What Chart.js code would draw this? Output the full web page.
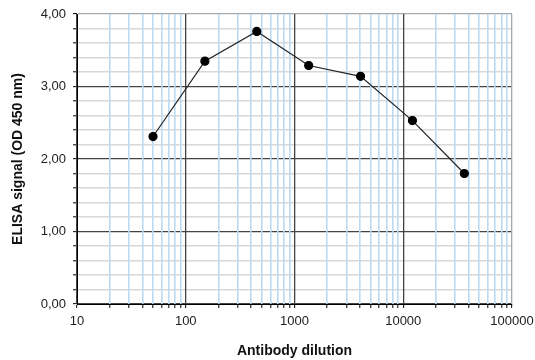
<!DOCTYPE html>
<html>
<head>
<meta charset="utf-8">
<script src="https://cdn.jsdelivr.net/npm/chart.js@4"></script>
<style>
  html, body { margin: 0; padding: 0; background: #fff; }
  #wrap { width: 535px; height: 360px; }
</style>
</head>
<body>
<div id="wrap"><canvas id="elisaChart" width="535" height="360"></canvas></div>
<script>
"use strict";

// antibody dilutions and measured ELISA signal (OD 450 nm)
const dilutions = [50, 150, 450, 1350, 4050, 12150, 36450];
const signals = [2.31, 3.35, 3.76, 3.29, 3.14, 2.53, 1.80];

const xDecades = [10, 100, 1000, 10000, 100000];
const yMin = 0, yMax = 4, yStep = 0.2;

const majorColor = "#444";
const edgeColor = "#a8a8a8";
const blueColor = "#bcdaf2";
const grayColor = "#d8d8d8";

function isDecade(v) {
  return xDecades.includes(Math.round(v));
}

function isWhole(v) {
  return Math.abs(v - Math.round(v)) < 1e-6;
}

function xTickValues() {
  const vals = [];
  for (let i = 0; i < xDecades.length - 1; i++) {
    for (let m = 1; m <= 9; m++) {
      vals.push(xDecades[i] * m);
    }
  }
  vals.push(xDecades[xDecades.length - 1]);
  return vals;
}

const ctx = document.getElementById("elisaChart").getContext("2d");

new Chart(ctx, {
  type: "line",
  data: {
    datasets: [
      {
        data: dilutions.map((d, i) => ({ x: d, y: signals[i] })),
        borderColor: "#222",
        borderWidth: 1.2,
        backgroundColor: "#000",
        pointBackgroundColor: "#000",
        pointBorderColor: "#000",
        pointRadius: 4,
        fill: false,
        tension: 0,
      },
    ],
  },
  options: {
    responsive: false,
    animation: false,
    layout: {
      padding: { left: 0, top: 14, right: 23, bottom: 0 },
    },
    plugins: {
      legend: { display: false },
      tooltip: { enabled: false },
    },
    scales: {
      x: {
        type: "logarithmic",
        min: 10,
        max: 100000,
        afterBuildTicks: (scale) => {
          scale.ticks = xTickValues().map((v) => ({ value: v }));
        },
        afterFit: (scale) => {
          scale.height = 56;
          scale.paddingLeft = 0;
          scale.paddingRight = 0;
        },
        border: { color: "#000", width: 1 },
        grid: {
          z: -1,
          color: (c) => {
            const v = c.tick ? c.tick.value : 0;
            if (v === 100000) return edgeColor;
            return isDecade(v) ? majorColor : blueColor;
          },
          lineWidth: (c) => (c.tick && isDecade(c.tick.value) ? 1.3 : 1.6),
          tickColor: "#000",
          tickWidth: 1,
          tickLength: 4,
        },
        ticks: {
          autoSkip: false,
          maxRotation: 0,
          padding: 6,
          color: "#222",
          font: { family: "Liberation Sans, Arial, sans-serif", size: 13 },
          callback: (v) => (isDecade(v) ? String(Math.round(v)) : ""),
        },
        title: {
          display: true,
          text: "Antibody dilution",
          color: "#111",
          padding: { top: 0, bottom: 0 },
          font: { family: "Liberation Sans, Arial, sans-serif", size: 14, weight: "bold" },
        },
      },
      y: {
        min: yMin,
        max: yMax,
        afterFit: (scale) => {
          scale.width = 77;
          scale.paddingTop = 0;
          scale.paddingBottom = 0;
        },
        border: { color: "#000", width: 1 },
        grid: {
          z: -2,
          color: (c) => {
            const v = c.tick ? c.tick.value : 0;
            if (Math.abs(v - yMax) < 1e-6) return edgeColor;
            return isWhole(v) ? majorColor : grayColor;
          },
          lineWidth: (c) => (c.tick && isWhole(c.tick.value) ? 1.3 : 1.6),
          tickColor: "#000",
          tickWidth: 1,
          tickLength: 4,
        },
        ticks: {
          stepSize: yStep,
          autoSkip: false,
          padding: 7,
          color: "#222",
          font: { family: "Liberation Sans, Arial, sans-serif", size: 13 },
          callback: (v) => (isWhole(v) ? v.toFixed(2).replace(".", ",") : ""),
        },
        title: {
          display: true,
          text: "ELISA signal (OD 450 nm)",
          color: "#111",
          padding: { top: 10, bottom: 0 },
          font: { family: "Liberation Sans, Arial, sans-serif", size: 14, weight: "bold" },
        },
      },
    },
  },
});
</script>
</body>
</html>
